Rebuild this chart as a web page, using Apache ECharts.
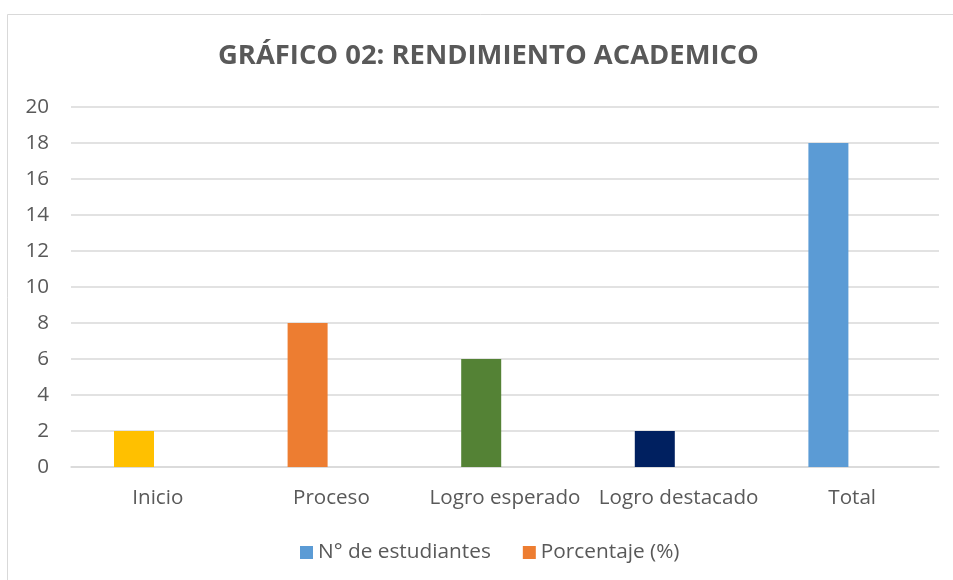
<!DOCTYPE html>
<html>
<head>
<meta charset="utf-8">
<script src="https://cdn.jsdelivr.net/npm/echarts@6/dist/echarts.min.js"></script>
<style>
  html, body { margin: 0; padding: 0; background: #fff; }
  #main { width: 953px; height: 580px; }
</style>
</head>
<body>
<div id="main"></div>
<script>
  var categories = ["Inicio", "Proceso", "Logro esperado", "Logro destacado", "Total"];
  var estudiantes = [2, 8, 6, 2, 18];
  var porcentaje = [null, null, null, null, null];
  var barColors = ["#FFC000", "#ED7D31", "#548235", "#002060", "#5B9BD5"];
  var yTicks = { min: 0, max: 20, interval: 2 };

  var font = "'Open Sans', 'Noto Sans', sans-serif";
  var chart = echarts.init(document.getElementById("main"));

  var option = {
    backgroundColor: "#ffffff",
    animation: false,
    graphic: [{
      type: "rect",
      shape: { x: 7.5, y: 14.5, width: 960, height: 600 },
      style: { fill: "none", stroke: "#d9d9d9", lineWidth: 1 },
      silent: true
    }],
    title: {
      text: "GRÁFICO 02: RENDIMIENTO ACADEMICO",
      left: 213,
      top: 38,
      textStyle: {
        color: "#595959",
        fontSize: 27.4,
        fontWeight: "bold",
        fontFamily: font
      }
    },
    legend: {
      bottom: 12,
      left: 295,
      itemWidth: 13,
      itemHeight: 13,
      itemGap: 32,
      icon: "rect",
      textStyle: { color: "#595959", fontSize: 20.8, fontFamily: font },
      data: ["N° de estudiantes", "Porcentaje (%)"]
    },
    grid: { left: 71, right: 14, top: 107, bottom: 113, containLabel: false },
    xAxis: {
      type: "category",
      data: categories,
      axisTick: { show: false },
      axisLine: { lineStyle: { color: "#d9d9d9", width: 1.5 } },
      axisLabel: { color: "#595959", fontSize: 20.6, fontFamily: font, margin: 21, interval: 0 }
    },
    yAxis: {
      type: "value",
      min: yTicks.min,
      max: yTicks.max,
      interval: yTicks.interval,
      axisLine: { show: false },
      axisTick: { show: false },
      axisLabel: { color: "#595959", fontSize: 20.6, fontFamily: font, margin: 22 },
      splitLine: { lineStyle: { color: "#d9d9d9", width: 1.5 } }
    },
    series: [
      {
        name: "N° de estudiantes",
        type: "bar",
        barWidth: 40,
        barGap: "19%",
        itemStyle: { color: "#5B9BD5" },
        data: estudiantes.map(function (v, i) {
          return { value: v, itemStyle: { color: barColors[i] } };
        })
      },
      {
        name: "Porcentaje (%)",
        type: "bar",
        barWidth: 40,
        itemStyle: { color: "#ED7D31" },
        data: porcentaje
      }
    ]
  };

  chart.setOption(option);
</script>
</body>
</html>
